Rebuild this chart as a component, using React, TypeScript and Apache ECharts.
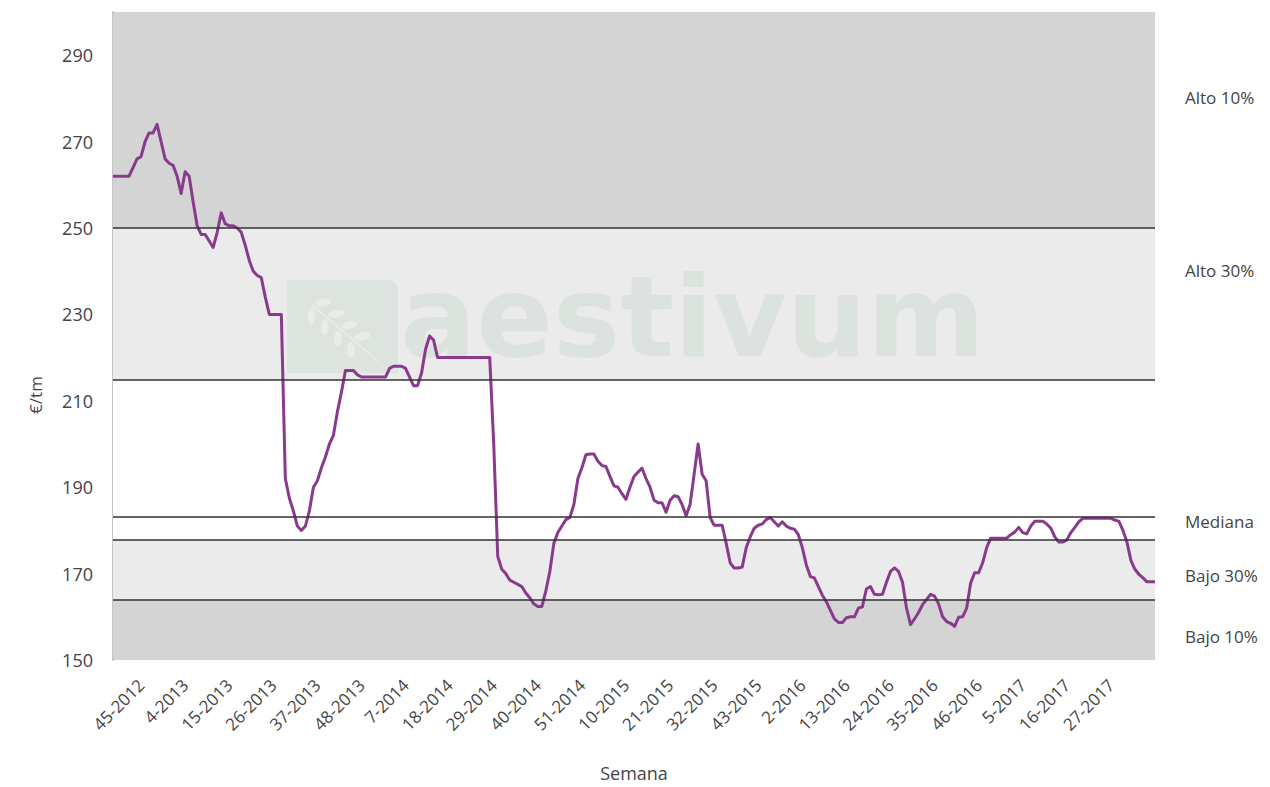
import React, { useEffect, useRef } from "react";
import * as echarts from "echarts";

// Weekly price series (€/tm), first week = 38-2012
const START_WEEK = 38;
const START_YEAR = 2012;
const prices: number[] = [
  262, 262, 262, 262, 262, 264, 266, 266.5, 270, 272,
  272, 274, 270, 266, 265, 264.5, 262, 258, 263, 262,
  256, 250.5, 248.5, 248.5, 247, 245.5, 249, 253.5, 251, 250.5,
  250.5, 250, 249, 246, 242.5, 240, 239, 238.5, 234, 230,
  230, 230, 230, 192, 187.5, 184.5, 181, 180, 181, 184.5,
  190, 191.5, 194.5, 197, 200, 202, 207.5, 212, 217, 217,
  217, 216, 215.5, 215.5, 215.5, 215.5, 215.5, 215.5, 215.5, 217.5,
  218, 218, 218, 217.5, 215.5, 213.5, 213.5, 216.5, 222, 225,
  224, 220, 220, 220, 220, 220, 220, 220, 220, 220,
  220, 220, 220, 220, 220, 200, 174, 171, 170, 168.5,
  168, 167.5, 167, 165.5, 164.4, 163, 162.4, 162.4, 166, 170.5,
  177, 179.5, 181, 182.5, 183, 186, 192, 194.5, 197.5, 197.7,
  197.7, 196, 195, 194.8, 192.5, 190.3, 190, 188.5, 187.2, 190,
  192.5, 193.5, 194.4, 192, 190, 187, 186.4, 186.4, 184.2, 187,
  188, 187.8, 186, 183.4, 186, 193, 200, 193, 191.5, 183,
  181.2, 181.2, 181.2, 177, 172.5, 171.3, 171.3, 171.5, 176, 178.5,
  180.5, 181.2, 181.5, 182.5, 183, 182, 181, 182, 181, 180.5,
  180.3, 179, 176, 172, 169.3, 169, 167, 165, 163.5, 161.5,
  159.5, 158.7, 158.7, 159.8, 160, 160, 162, 162.3, 166.5, 167,
  165.2, 165.1, 165.2, 168, 170.5, 171.3, 170.5, 168, 162, 158.2,
  159.5, 161, 162.8, 164, 165.2, 164.8, 163, 160, 158.9, 158.5,
  157.8, 159.9, 160, 162, 167.8, 170.2, 170.2, 172.5, 176, 178.2,
  178.2, 178.2, 178.2, 178.2, 179, 179.6, 180.7, 179.5, 179.2, 181,
  182.1, 182.1, 182.1, 181.5, 180.5, 178.5, 177.3, 177.3, 177.8, 179.5,
  180.7, 182, 182.8, 182.8, 182.8, 182.8, 182.8, 182.8, 182.8, 182.8,
  182.4, 182.1, 180, 177.3, 173, 171, 169.8, 169, 168.1, 168.1, 168.1,
];

// Reference levels
const levelNames = ["Alto 10%", "Alto 30%", "Mediana", "Bajo 30%", "Bajo 10%"];
const levelValues = [250, 214.8, 183.2, 177.9, 164];

// Y axis
const Y_MIN = 150;
const Y_MAX = 300;
const Y_STEP = 20;

// Band limits [from, to, color]
const bands: [number, number, string][] = [
  [250, 300, "#d4d4d4"],
  [214.8, 250, "#ebebeb"],
  [177.9, 214.8, "#ffffff"],
  [164, 177.9, "#ebebeb"],
  [150, 164, "#d4d4d4"],
];

// Right-side labels vertical positions (px)
const sideLabelY = [97, 270, 521, 575, 636];

const LABEL_OFFSET = 7;
const LABEL_EVERY = 11;

function buildCategories(n: number): string[] {
  const out: string[] = [];
  let w = START_WEEK;
  let y = START_YEAR;
  for (let i = 0; i < n; i++) {
    out.push(`${w}-${y}`);
    w++;
    if (w > 52) {
      w = 1;
      y++;
    }
  }
  return out;
}

const FONT = "'Open Sans', 'Noto Sans', sans-serif";

export default function App() {
  const ref = useRef<HTMLDivElement>(null);
  useEffect(() => {
    document.body.style.margin = "0";
    if (!ref.current) return;
    const chart = echarts.init(ref.current, null, { renderer: "svg" });
    const categories = buildCategories(prices.length);

    const leafColor = "#e9edea";
    const sx = 312, sy = 305, ex = 378, ey = 361;
    const dx = ex - sx, dy = ey - sy;
    const len = Math.sqrt(dx * dx + dy * dy);
    const ux = dx / len, uy = dy / len;
    const px = uy, py = -ux;
    const angle = Math.atan2(-dy, dx);
    const leaves: any[] = [];
    [0.08, 0.28, 0.48, 0.68].forEach((t) => {
      const cx = sx + dx * t;
      const cy = sy + dy * t;
      [1, -1].forEach((s) => {
        leaves.push({
          type: "ellipse",
          z: 2,
          silent: true,
          x: cx + s * px * 9,
          y: cy + s * py * 9,
          rotation: angle + s * 0.9,
          shape: { cx: 0, cy: 0, rx: 8, ry: 3.8 },
          style: { fill: leafColor },
        });
      });
    });

    chart.setOption({
      animation: false,
      grid: { left: 113, right: 115, top: 12, bottom: 121, containLabel: false },
      xAxis: {
        type: "category",
        data: categories,
        boundaryGap: false,
        name: "Semana",
        nameLocation: "middle",
        nameGap: 104,
        nameTextStyle: { fontFamily: FONT, fontSize: 18, color: "#444" },
        axisLine: { show: false },
        axisTick: { show: false },
        splitLine: { show: false },
        axisLabel: {
          rotate: 45,
          margin: 22,
          fontFamily: FONT,
          fontSize: 17,
          color: "#444",
          interval: (index: number) =>
            index >= LABEL_OFFSET && (index - LABEL_OFFSET) % LABEL_EVERY === 0 && index < prices.length - 5,
        },
      },
      yAxis: {
        type: "value",
        min: Y_MIN,
        max: Y_MAX,
        interval: Y_STEP,
        axisLine: { show: true, lineStyle: { color: "#c4c4c4", width: 2 } },
        axisTick: { show: false },
        splitLine: { show: false },
        axisLabel: {
          margin: 20,
          showMaxLabel: false,
          fontFamily: FONT,
          fontSize: 18,
          color: "#444",
        },
      },
      graphic: [
        {
          type: "rect",
          z: 2,
          silent: true,
          shape: { x: 287, y: 280, width: 111, height: 93, r: [0, 10, 0, 0] },
          style: { fill: "#dde4df" },
        },
        {
          type: "line",
          z: 2,
          silent: true,
          shape: { x1: sx, y1: sy, x2: ex, y2: ey },
          style: { stroke: leafColor, lineWidth: 2 },
        },
        ...leaves,
        {
          type: "text",
          z: 2,
          silent: true,
          x: 400,
          y: 373,
          style: {
            text: "aestivum",
            fontFamily: "'DejaVu Sans', sans-serif",
            fontWeight: "bold",
            fontSize: 113,
            fill: "#dce3de",
            verticalAlign: "bottom",
          },
        },
        {
          type: "text",
          z: 10,
          x: 35,
          y: 395,
          rotation: Math.PI / 2,
          style: {
            text: "€/tm",
            fontFamily: FONT,
            fontSize: 17,
            fill: "#444",
            align: "center",
            verticalAlign: "middle",
          },
        },
        ...levelNames.map((name, i) => ({
          type: "text",
          z: 10,
          x: 1185,
          y: sideLabelY[i],
          style: {
            text: name,
            fontFamily: FONT,
            fontSize: 17,
            fill: "#444",
            align: "left",
            verticalAlign: "middle",
          },
        })),
      ],
      series: [
        {
          type: "line",
          z: 1,
          data: [],
          silent: true,
          symbol: "none",
          markArea: {
            silent: true,
            label: { show: false },
            data: bands.map(([a, b, c]) => [
              { yAxis: a, itemStyle: { color: c } },
              { yAxis: b },
            ]),
          },
          markLine: {
            silent: true,
            symbol: "none",
            label: { show: false },
            lineStyle: { color: "#333", width: 1.6, type: "solid" },
            data: levelValues.map((v) => ({ yAxis: v })),
          },
        },
        {
          type: "line",
          z: 3,
          data: prices,
          symbol: "none",
          showSymbol: false,
          lineStyle: { color: "#8a3a8c", width: 3, join: "round" },
        },
      ],
    });
    return () => chart.dispose();
  }, []);
  return <div ref={ref} style={{ width: 1270, height: 787 }} />;
}
